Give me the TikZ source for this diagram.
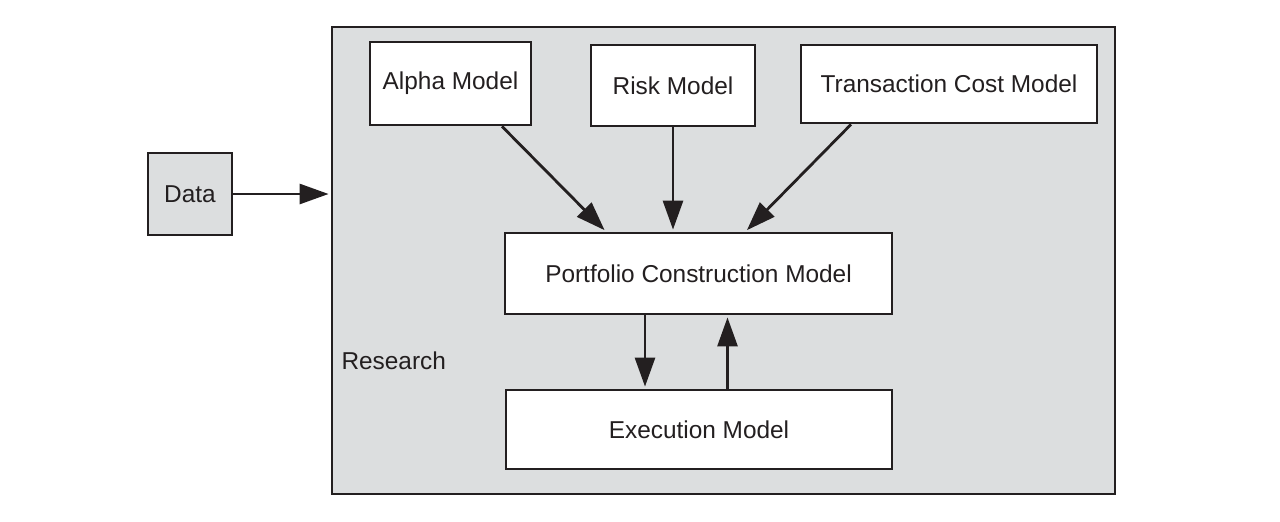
\documentclass[tikz,border=0pt]{standalone}
\usepackage{fontspec}
\setmainfont{Liberation Sans}
\usetikzlibrary{arrows.meta}
\definecolor{panel}{HTML}{DCDEDF}
\definecolor{ink}{HTML}{231F20}
\begin{document}
\begin{tikzpicture}[x=1pt,y=-1pt,
  every node/.style={font=\fontsize{24.4}{28}\selectfont, text=ink},
  box/.style={draw=ink, line width=2.8pt, fill=white, rectangle, inner sep=0pt},
  graybox/.style={box, fill=panel},
  arr/.style={draw=ink, line width=2.8pt, -{Triangle[length=29pt,width=20pt]}, shorten >=2pt}]
\useasboundingbox (0,0) rectangle (1280,522);
% outer research area and the data source
\node[graybox, minimum width=783pt, minimum height=467pt] (research) at (723.5,260.5) {};
\node[anchor=west] (rlabel) at (338,361) {Research};
\node[graybox, minimum width=84pt, minimum height=82pt] (data) at (190,194) {Data};
% model blocks
\node[box, minimum width=161pt, minimum height=83pt] (alpha) at (450.5,83.5) {Alpha Model};
\node[box, minimum width=164pt, minimum height=81pt] (risk) at (673,85.5) {Risk Model};
\node[box, minimum width=296pt, minimum height=78pt] (tcm) at (949,84) {Transaction Cost Model};
\node[box, minimum width=387pt, minimum height=81pt] (pcm) at (698.5,273.5) {Portfolio Construction Model};
\node[box, minimum width=386pt, minimum height=79pt] (exec) at (699,429.5) {Execution Model};
% connectors
\draw[arr] (data.east) -- (data.east -| research.west);
\draw[arr] ([xshift=51.5pt]alpha.south) -- ([xshift=-92.5pt]pcm.north);
\draw[arr] (risk.south) -- (risk.south |- pcm.north);
\draw[arr] ([xshift=-98pt]tcm.south) -- ([xshift=47pt]pcm.north);
\coordinate (dn) at ([xshift=-53.5pt]pcm.south);
\coordinate (up) at ([xshift=28.5pt]exec.north);
\draw[arr] (dn) -- (dn |- exec.north);
\draw[arr] (up) -- (up |- pcm.south);
\end{tikzpicture}
\end{document}
